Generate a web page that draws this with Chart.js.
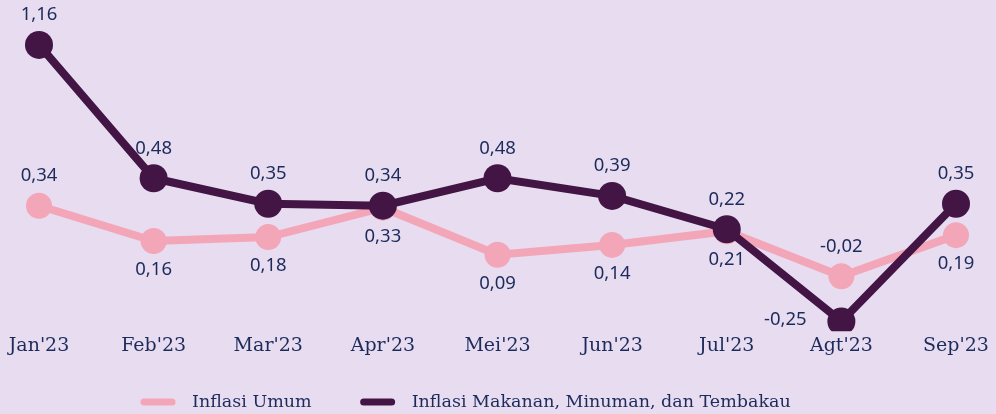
<!DOCTYPE html>
<html>
<head>
<meta charset="utf-8">
<script src="https://cdn.jsdelivr.net/npm/chart.js@4.4.0/dist/chart.umd.min.js"></script>
<style>
  html, body { margin: 0; padding: 0; background: #E8DCF1; }
  #wrap { width: 996px; height: 414px; }
</style>
</head>
<body>
<div id="wrap"><canvas id="myChart"></canvas></div>
<script>
// Data
const months = ["Jan'23", "Feb'23", "Mar'23", "Apr'23", "Mei'23", "Jun'23", "Jul'23", "Agt'23", "Sep'23"];
const inflasiUmum = [0.34, 0.16, 0.18, 0.33, 0.09, 0.14, 0.21, -0.02, 0.19];
const inflasiMakanan = [1.16, 0.48, 0.35, 0.34, 0.48, 0.39, 0.22, -0.25, 0.35];

// where each value label sits relative to its point
const umumLabelPos = ["top", "bottom", "bottom", "bottom", "bottom", "bottom", "bottom", "top", "bottom"];
const makananLabelPos = ["top", "top", "top", "top", "top", "top", "top", "left", "top"];

const textColor = "#1C2B5A";

// small inline plugin to draw the value labels (no datalabels plugin offline)
const valueLabels = {
    id: "valueLabels",
    afterDatasetsDraw(chart) {
        const ctx = chart.ctx;
        ctx.save();
        ctx.font = "18.5px 'Noto Sans'";
        ctx.fillStyle = textColor;
        ctx.textAlign = "center";
        ctx.textBaseline = "middle";
        chart.data.datasets.forEach((ds, i) => {
            const meta = chart.getDatasetMeta(i);
            meta.data.forEach((pt, j) => {
                const txt = ds.data[j].toFixed(2).replace(".", ",");
                const pos = ds.labelPos[j];
                let x = pt.x, y = pt.y;
                if (pos === "top") y -= 30;
                else if (pos === "bottom") y += 29;
                else if (pos === "left") { x -= 56; y -= 2; }
                ctx.fillText(txt, x, y);
            });
        });
        ctx.restore();
    }
};

// legend drawn by hand so the spacing matches the original
const bottomLegend = {
    id: "bottomLegend",
    afterDraw(chart) {
        const ctx = chart.ctx;
        ctx.save();
        ctx.font = "17.5px 'DejaVu Serif'";
        ctx.textBaseline = "middle";
        ctx.lineCap = "round";
        ctx.lineWidth = 7;
        let x = 144;
        const y = 402;
        chart.data.datasets.forEach(ds => {
            ctx.strokeStyle = ds.borderColor;
            ctx.beginPath();
            ctx.moveTo(x, y);
            ctx.lineTo(x + 28, y);
            ctx.stroke();
            ctx.fillStyle = textColor;
            ctx.fillText(ds.label, x + 48, y);
            x += 48 + ctx.measureText(ds.label).width + 52;
        });
        ctx.restore();
    }
};

new Chart(document.getElementById("myChart").getContext("2d"), {
    type: "line",
    data: {
        labels: months,
        datasets: [
            {
                label: "Inflasi Umum",
                data: inflasiUmum,
                labelPos: umumLabelPos,
                borderColor: "#F3A6B8",
                backgroundColor: "#F3A6B8",
                borderWidth: 8,
                pointRadius: 13,
                pointHoverRadius: 13,
                pointBorderWidth: 0,
                tension: 0,
                order: 2
            },
            {
                label: "Inflasi Makanan, Minuman, dan Tembakau",
                data: inflasiMakanan,
                labelPos: makananLabelPos,
                borderColor: "#421544",
                backgroundColor: "#421544",
                borderWidth: 8,
                pointRadius: 14,
                pointHoverRadius: 14,
                pointBorderWidth: 0,
                tension: 0,
                order: 1
            }
        ]
    },
    options: {
        responsive: true,
        maintainAspectRatio: false,
        animation: false,
        layout: {
            padding: { left: 39, right: 40, top: 17.5, bottom: 54 }
        },
        scales: {
            x: {
                offset: false,
                grid: { display: false, drawTicks: false },
                border: { display: false },
                ticks: {
                    color: textColor,
                    font: { family: "'DejaVu Serif'", size: 19 },
                    padding: 3,
                    maxRotation: 0
                }
            },
            y: {
                display: false,
                min: -0.3,
                max: 1.3
            }
        },
        plugins: {
            legend: { display: false },
            tooltip: { enabled: false }
        }
    },
    plugins: [valueLabels, bottomLegend]
});
</script>
</body>
</html>
